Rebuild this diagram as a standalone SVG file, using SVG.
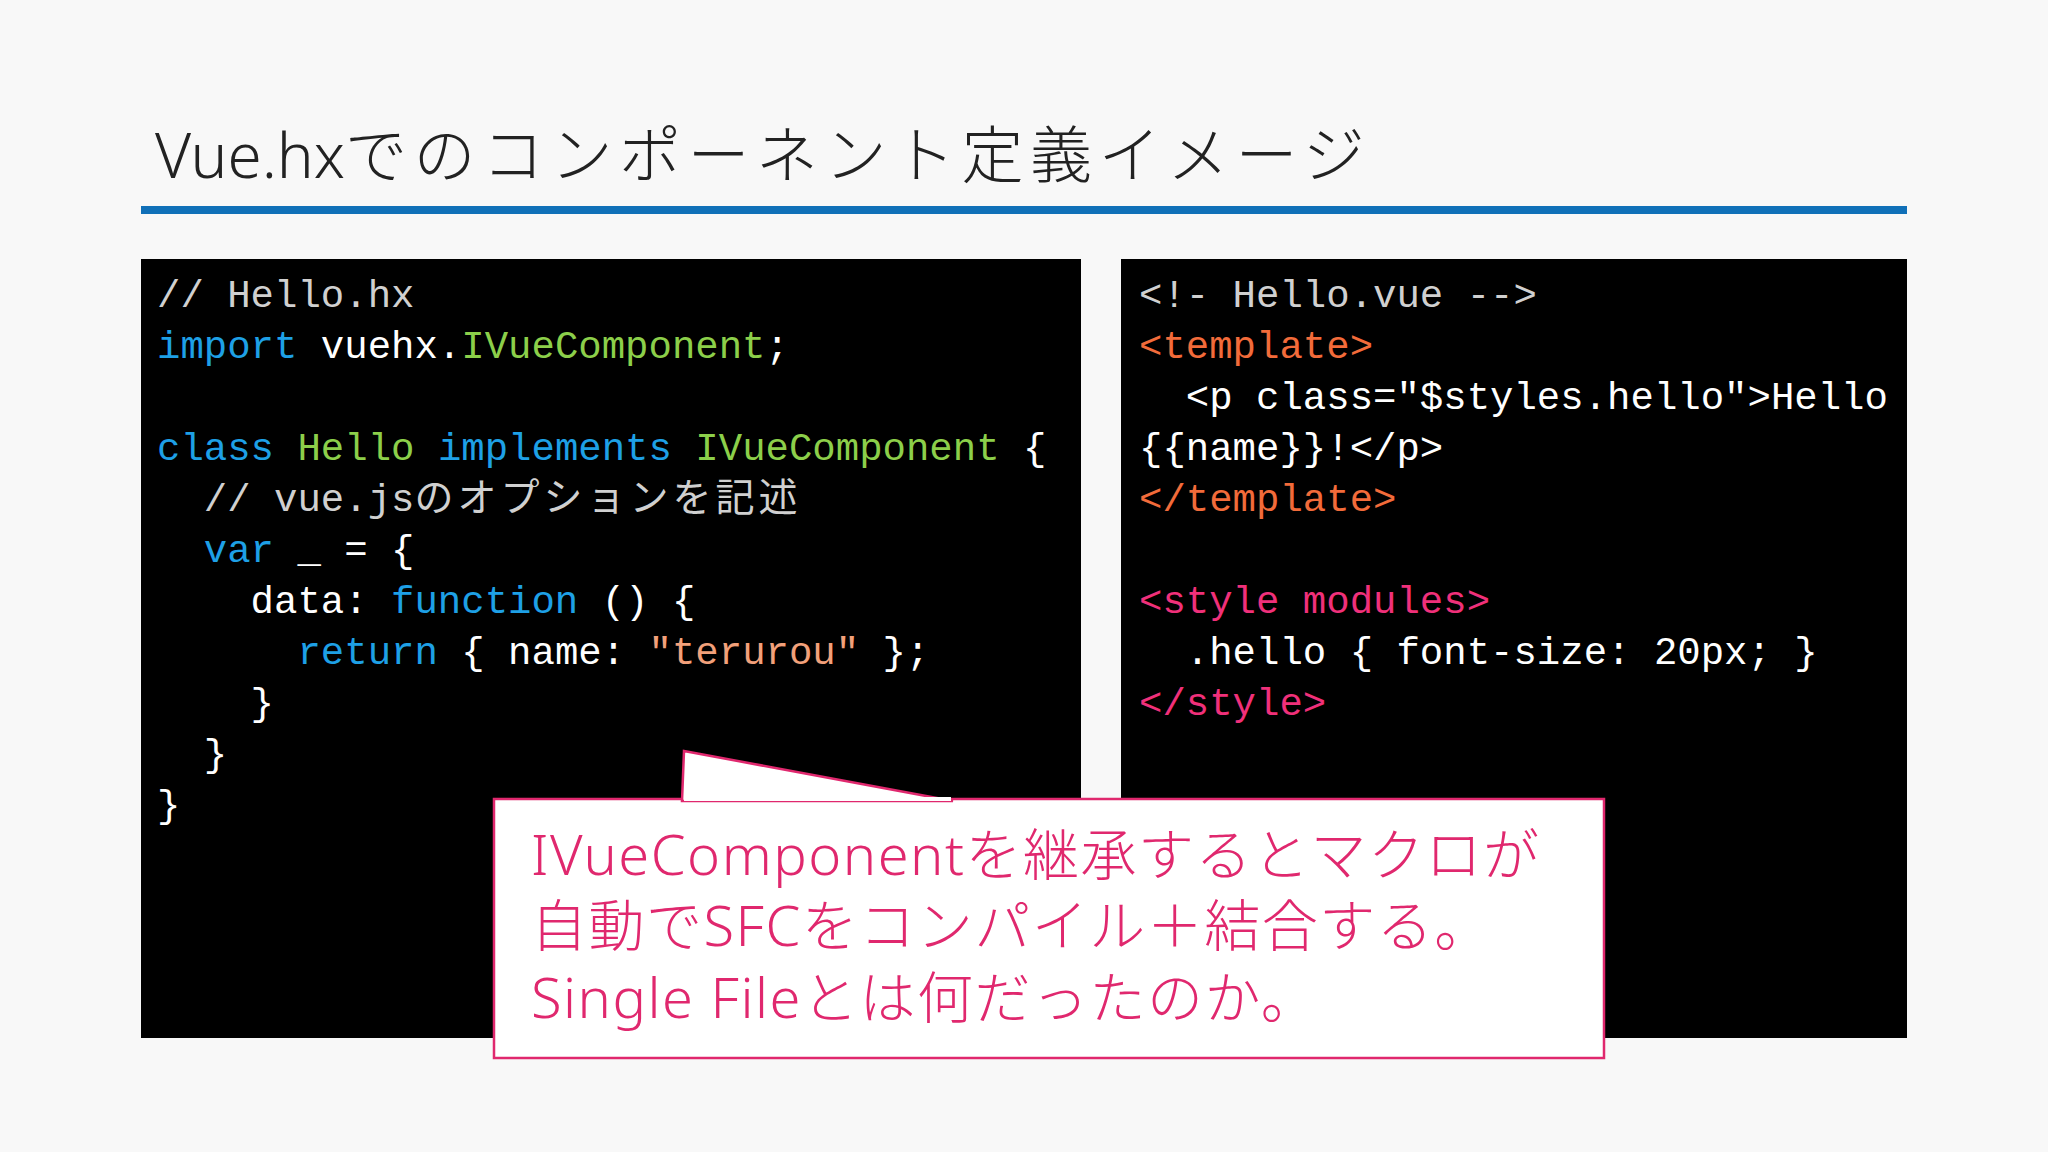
<svg xmlns="http://www.w3.org/2000/svg" width="2048" height="1152" viewBox="0 0 2048 1152">
<style>
.code{font-family:"Liberation Mono","DejaVu Sans Mono","Noto Sans CJK JP",monospace;font-size:39px;fill:#ffffff;white-space:pre}
.cm{fill:#d0d0d0}.kw{fill:#1ea0e6}.ty{fill:#8ccf4a}.st{fill:#f2a07a}.or{fill:#f26b3a}.pk{fill:#f0307a}
.jp{font-family:"Noto Sans CJK JP","Noto Sans",sans-serif;letter-spacing:4px}
</style>
<rect width="2048" height="1152" fill="#f8f8f8"/>
<g id="title">
<text x="155" y="178" font-family="'Noto Sans','Noto Sans CJK JP',sans-serif" font-size="62" font-weight="300" fill="#222"><tspan>Vue.hx</tspan><tspan letter-spacing="6.5">でのコンポーネント定義イメージ</tspan></text>
<rect x="141" y="206" width="1766" height="8" fill="#1070b8"/>
</g>
<g id="left-code">
<rect x="141" y="259" width="940" height="779" fill="#000"/>
<text class="code" xml:space="preserve"><tspan x="157" y="307" class="cm">// Hello.hx</tspan><tspan x="157" y="358"><tspan class="kw">import</tspan> vuehx.<tspan class="ty">IVueComponent</tspan>;</tspan><tspan x="157" y="460"><tspan class="kw">class</tspan> <tspan class="ty">Hello</tspan> <tspan class="kw">implements</tspan> <tspan class="ty">IVueComponent</tspan> {</tspan><tspan x="157" y="511" class="cm">  // vue.js<tspan class="jp">のオプションを記述</tspan></tspan><tspan x="157" y="562">  <tspan class="kw">var</tspan> _ = {</tspan><tspan x="157" y="613">    data: <tspan class="kw">function</tspan> () {</tspan><tspan x="157" y="664">      <tspan class="kw">return</tspan> { name: <tspan class="st">"terurou"</tspan> };</tspan><tspan x="157" y="715">    }</tspan><tspan x="157" y="766">  }</tspan><tspan x="157" y="817">}</tspan></text>
</g>
<g id="right-code">
<rect x="1121" y="259" width="786" height="779" fill="#000"/>
<text class="code" xml:space="preserve"><tspan x="1139" y="307" class="cm">&lt;!- Hello.vue --&gt;</tspan><tspan x="1139" y="358" class="or">&lt;template&gt;</tspan><tspan x="1139" y="409">  &lt;p class="$styles.hello"&gt;Hello</tspan><tspan x="1139" y="460">{{name}}!&lt;/p&gt;</tspan><tspan x="1139" y="511" class="or">&lt;/template&gt;</tspan><tspan x="1139" y="613" class="pk">&lt;style modules&gt;</tspan><tspan x="1139" y="664">  .hello { font-size: 20px; }</tspan><tspan x="1139" y="715" class="pk">&lt;/style&gt;</tspan></text>
</g>
<g id="callout">
<rect x="494" y="799" width="1110" height="259" fill="#fff" stroke="#e0286e" stroke-width="2.5"/>
<polygon points="682,801 684,751 953,801" fill="#fff" stroke="#e0286e" stroke-width="2.5"/>
<line x1="684" y1="799" x2="951" y2="799" stroke="#fff" stroke-width="4"/>
<text font-family="'Noto Sans','Noto Sans CJK JP',sans-serif" font-size="56" font-weight="300" fill="#e0286e" letter-spacing="1.5"><tspan x="531" y="875">IVueComponentを継承するとマクロが</tspan><tspan x="531" y="946">自動でSFCをコンパイル＋結合する。</tspan><tspan x="531" y="1018">Single Fileとは何だったのか。</tspan></text>
</g>
</svg>
